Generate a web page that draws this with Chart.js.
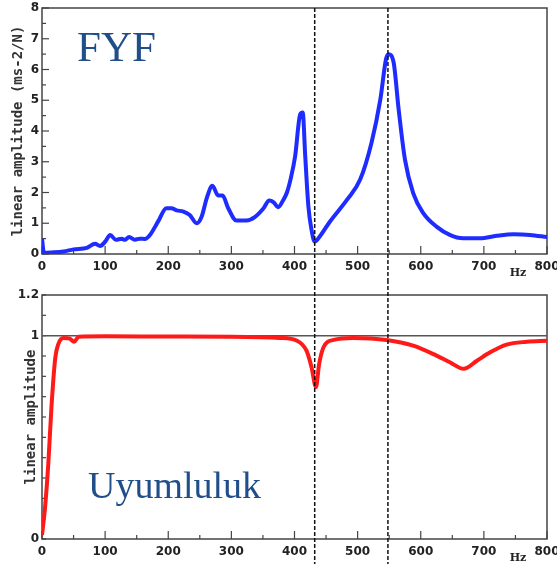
<!DOCTYPE html>
<html>
<head>
<meta charset="utf-8">
<script src="https://cdn.jsdelivr.net/npm/chart.js@4"></script>
<style>
  body { margin: 0; background: #fff; }
  #wrap { position: relative; width: 557px; height: 564px; }
  canvas { display: block; }
  .tag {
    position: absolute;
    font-family: "Liberation Serif", "Times New Roman", serif;
    color: #1f4e89;
    line-height: 1;
    white-space: nowrap;
  }
</style>
</head>
<body>
<div id="wrap">
  <canvas id="fyfChart" width="557" height="280"></canvas>
  <canvas id="uyumChart" width="557" height="284"></canvas>
  <div class="tag" style="left:77px; top:25px; font-size:43px;">FYF</div>
  <div class="tag" style="left:88px; top:466px; font-size:38px;">Uyumluluk</div>
</div>
<script>
// FRF magnitude, Hz / (ms-2/N)
const fyfFreq = [0, 3, 15, 34, 50, 71, 84, 92, 100, 108, 117, 126, 131, 138, 147, 155, 163, 171,
  184, 197, 205, 213, 224, 234, 245, 253, 261, 270, 279, 286, 295, 308, 324, 337, 351, 360,
  367, 374, 382, 388, 394, 401, 409, 413, 417, 422, 427, 432, 440, 456, 483, 504, 522, 536,
  545, 549, 557, 565, 575, 588, 604, 625, 646, 667, 694, 720, 747, 773, 800];
const fyfAmp = [0.5, 0.04, 0.05, 0.08, 0.15, 0.2, 0.33, 0.26, 0.4, 0.62, 0.46, 0.5, 0.46, 0.55,
  0.46, 0.5, 0.49, 0.62, 1.06, 1.49, 1.49, 1.42, 1.38, 1.27, 1.0, 1.22, 1.82, 2.22, 1.9, 1.9,
  1.49, 1.09, 1.09, 1.2, 1.49, 1.74, 1.68, 1.52, 1.75, 2.0, 2.45, 3.18, 4.54, 4.6, 3.18, 1.55,
  0.78, 0.4, 0.57, 1.05, 1.76, 2.42, 3.62, 5.03, 6.34, 6.5, 6.23, 4.7, 3.07, 1.98, 1.33, 0.89,
  0.62, 0.51, 0.51, 0.59, 0.64, 0.62, 0.55];

// coherence
const uyumFreq = [0, 3, 5, 10, 15, 21, 26, 34, 44, 51, 58, 100, 200, 300, 377, 404, 419, 427,
  434, 439, 446, 462, 493, 546, 588, 625, 646, 668, 689, 710, 736, 768, 800];
const uyumAmp = [0.02, 0.1, 0.16, 0.37, 0.65, 0.89, 0.96, 0.989, 0.985, 0.97, 0.995, 0.997,
  0.996, 0.995, 0.989, 0.975, 0.926, 0.845, 0.747, 0.86, 0.943, 0.979, 0.989, 0.979, 0.951,
  0.902, 0.869, 0.837, 0.877, 0.918, 0.956, 0.97, 0.975];

const markerFreqs = [432, 548];
const xTicks = [0, 100, 200, 300, 400, 500, 600, 700, 800];

const tickFont = { family: 'DejaVu Sans', size: 12, weight: 'bold' };
const titleFont = { family: 'DejaVu Sans Mono', size: 14, weight: 'bold' };

function toPoints(xs, ys) {
  return xs.map((x, i) => ({ x: x, y: ys[i] }));
}

// frame, inward ticks, Hz label, dashed markers
function decorPlugin(cfg) {
  return {
    id: 'decor',
    beforeDatasetsDraw(chart) {
      const { ctx, chartArea: a, scales } = chart;
      ctx.save();
      ctx.strokeStyle = '#444';
      ctx.lineWidth = 1.5;
      ctx.strokeRect(a.left, a.top, a.right - a.left, a.bottom - a.top);
      // x ticks every 50 Hz
      ctx.lineWidth = 1.2;
      for (let v = 0; v <= 800; v += 50) {
        const px = scales.x.getPixelForValue(v);
        const len = v % 100 === 0 ? 8 : 4;
        ctx.beginPath();
        ctx.moveTo(px, a.bottom);
        ctx.lineTo(px, a.bottom - len);
        ctx.stroke();
      }
      // y ticks
      for (let i = 0; i <= cfg.yCount; i++) {
        const v = i * cfg.yStep;
        const py = scales.y.getPixelForValue(v);
        const len = cfg.isMajor(v) ? 7 : 4;
        ctx.beginPath();
        ctx.moveTo(a.left, py);
        ctx.lineTo(a.left + len, py);
        ctx.stroke();
      }
      if (cfg.refLine !== undefined) {
        const py = scales.y.getPixelForValue(cfg.refLine);
        ctx.strokeStyle = '#555';
        ctx.lineWidth = 1.5;
        ctx.beginPath();
        ctx.moveTo(a.left, py);
        ctx.lineTo(a.right, py);
        ctx.stroke();
      }
      ctx.fillStyle = '#222';
      ctx.font = 'bold 11px "DejaVu Serif"';
      ctx.textAlign = 'center';
      ctx.textBaseline = 'middle';
      ctx.fillText('Hz', 518, cfg.hzY);
      ctx.restore();
    },
    afterDatasetsDraw(chart) {
      const { ctx, chartArea: a, scales } = chart;
      ctx.save();
      ctx.strokeStyle = '#111';
      ctx.lineWidth = 1.5;
      ctx.setLineDash([4, 2]);
      markerFreqs.forEach(f => {
        const px = scales.x.getPixelForValue(f);
        ctx.beginPath();
        ctx.moveTo(px, cfg.lineFromTop ? 0 : a.top);
        ctx.lineTo(px, chart.height);
        ctx.stroke();
      });
      ctx.restore();
    }
  };
}

function makeChart(id, opts) {
  return new Chart(document.getElementById(id), {
    type: 'line',
    data: {
      datasets: [{
        data: toPoints(opts.xs, opts.ys),
        borderColor: opts.color,
        borderWidth: 4,
        pointRadius: 0,
        cubicInterpolationMode: 'monotone',
        fill: false
      }]
    },
    options: {
      responsive: false,
      animation: false,
      layout: { padding: { top: opts.padTop, right: 10, left: 0, bottom: 0 } },
      plugins: { legend: { display: false }, tooltip: { enabled: false } },
      scales: {
        x: {
          type: 'linear',
          min: 0,
          max: 800,
          afterFit: s => {
            s.height = opts.xHeight;
            s.paddingLeft = 0;
            s.paddingRight = 0;
          },
          afterBuildTicks: s => { s.ticks = xTicks.map(v => ({ value: v })); },
          grid: { display: false, drawTicks: false },
          border: { display: false },
          ticks: { autoSkip: false, maxRotation: 0, padding: 6, color: '#222', font: tickFont }
        },
        y: {
          min: 0,
          max: opts.yMax,
          afterFit: s => {
            s.width = 42;
            s.paddingTop = 0;
            s.paddingBottom = 0;
          },
          grid: { display: false, drawTicks: false },
          border: { display: false },
          title: {
            display: true,
            text: opts.yTitle,
            color: '#333',
            font: titleFont,
            padding: { top: opts.titlePad, bottom: 0 }
          },
          ticks: {
            stepSize: opts.yStep,
            padding: 3,
            color: '#222',
            font: tickFont,
            callback: opts.yLabel
          }
        }
      }
    },
    plugins: [decorPlugin(opts.decor)]
  });
}

makeChart('fyfChart', {
  xs: fyfFreq, ys: fyfAmp, color: '#1f2cff',
  padTop: 8, xHeight: 26, yMax: 8, yStep: 1, titlePad: 10,
  yTitle: 'linear amplitude (ms-2/N)',
  yLabel: v => String(v),
  decor: { yCount: 16, yStep: 0.5, isMajor: v => v % 1 === 0, hzY: 273, lineFromTop: false }
});

makeChart('uyumChart', {
  xs: uyumFreq, ys: uyumAmp, color: '#ff1a1a',
  padTop: 15, xHeight: 25, yMax: 1.2, yStep: 0.1, titlePad: 23,
  yTitle: 'linear amplitude',
  yLabel: v => {
    const r = Math.round(v * 10) / 10;
    return (r === 0 || r === 1 || r === 1.2) ? String(r) : '';
  },
  decor: { yCount: 12, yStep: 0.1, isMajor: v => false, hzY: 278, refLine: 1, lineFromTop: true }
});
</script>
</body>
</html>
